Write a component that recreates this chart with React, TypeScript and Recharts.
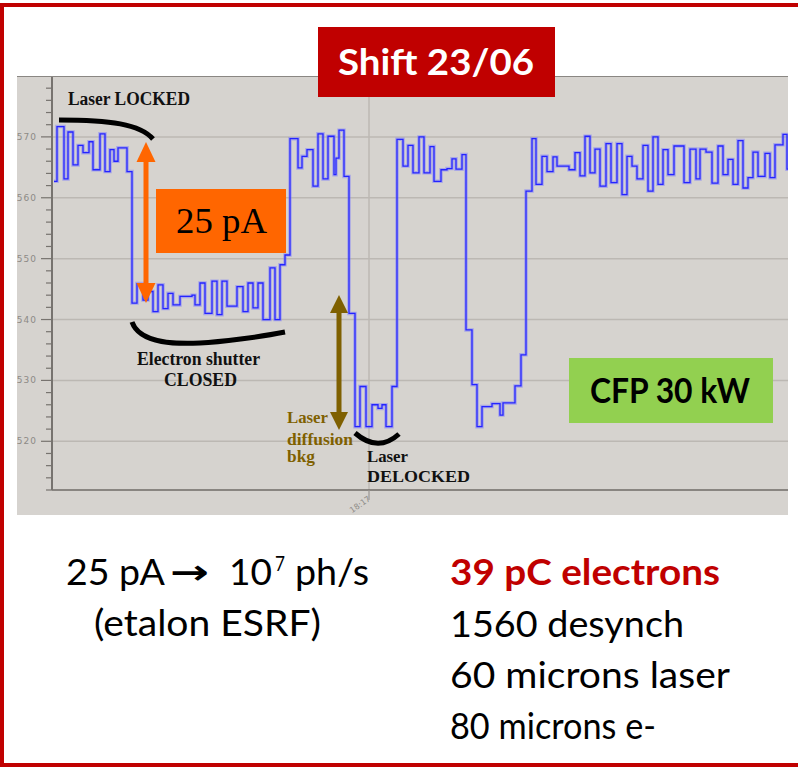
import React from "react";
import { LineChart, Line, XAxis, YAxis, CartesianGrid } from "recharts";

// step changes of the photodiode current (t = time index, pA)
const times = [
  2, 5, 12, 16, 21, 26, 31, 37, 41, 48, 53, 58, 62, 66, 75, 80, 85, 91, 96, 101,
  106, 111, 116, 121, 128, 140, 143, 148, 153, 160, 165, 170, 175, 185, 191, 196,
  201, 206, 211, 218, 223, 228, 233, 238, 246, 250, 255, 261, 266, 271, 276, 282,
  284, 287, 292, 297, 303, 308, 314, 320, 326, 330, 334, 340, 345, 351, 356, 361,
  367, 372, 378, 382, 389, 395, 400, 404, 410, 414, 420, 425, 430, 440, 448, 451,
  463, 469, 474, 480, 484, 490, 495, 501, 505, 517, 523, 528, 533, 538, 543, 548,
  554, 559, 565, 570, 575, 580, 585, 591, 596, 601, 606, 611, 616, 622, 632, 638,
  644, 648, 654, 660, 666, 671, 676, 681, 686, 691, 696, 701, 706, 713, 718, 723,
  731, 735, 736,
];
const current = [
  562.7, 571.7, 563.1, 570.8, 565.4, 568.6, 567.4, 569.2, 564.6, 570.5, 564.3, 567.9, 566.0, 568.2, 564.3, 542.7, 545.9, 543.2, 544.6, 541.3,
  545.7, 541.8, 544.3, 542.4, 543.8, 544.0, 542.4, 546.0, 541.0, 546.3, 540.8, 546.3, 542.2, 545.4, 541.3, 546.0,
  541.9, 546.0, 540.0, 548.5, 540.0, 549.0, 550.6, 569.7, 564.9, 566.8, 567.9, 561.9, 570.5, 563.1, 570.1, 563.8,
  566.5, 571.1, 563.5, 541.0, 522.4, 529.0, 522.4, 526.0, 525.4, 526.0, 522.4, 529.0, 569.6, 565.2, 568.6, 564.1,
  570.0, 564.1, 568.4, 562.7, 564.6, 564.8, 566.4, 564.7, 567.1, 538.3, 529.3, 522.4, 525.7, 526.2, 524.3, 526.3,
  529.1, 534.2, 561.1, 569.7, 562.2, 566.8, 564.3, 566.7, 565.2, 564.6, 567.4, 563.6, 570.1, 564.1, 568.0, 561.9,
  568.9, 562.5, 568.9, 560.5, 566.8, 565.2, 563.1, 568.6, 561.1, 570.0, 562.2, 567.9, 563.8, 568.5, 562.5, 568.0,
  563.1, 568.0, 567.5, 562.4, 568.5, 563.8, 566.3, 562.2, 569.4, 561.6, 563.3, 567.5, 563.5, 567.3, 563.3, 568.7,
  570.4, 564.7, 564.7,
];

const yMajor = [520, 530, 540, 550, 560, 570];
const yDomain = [512, 580];
const timeTicks = [317];
const timeLabels = ["18:17"];

const rows = times.map((t, i) => ({ t, v: current[i] }));
const yTicks: number[] = [];
for (let v = yDomain[0]; v <= yDomain[1]; v += 2) yTicks.push(v);

function YTick(props: any) {
  const { x, y, payload } = props;
  const major = payload.value % 10 === 0;
  const labelled = yMajor.includes(payload.value);
  return (
    <g>
      <line x1={x - (major ? 11 : 6)} x2={x} y1={y} y2={y} stroke="#77736f" strokeWidth={1.2} />
      {labelled && (
        <text x={x - 15} y={y + 3} textAnchor="end" fontSize={9} fill="#8d8a86" fontFamily="DejaVu Sans" letterSpacing={1}>
          {payload.value}
        </text>
      )}
    </g>
  );
}

function XTick(props: any) {
  const { x, y, index } = props;
  return (
    <g>
      <line x1={x} x2={x} y1={y} y2={y + 10} stroke="#9a9692" strokeWidth={1.2} />
      <text transform={`translate(${x + 2},${y + 10}) rotate(-35)`} textAnchor="end" fontSize={8} fill="#8d8a86" fontFamily="DejaVu Sans">
        {timeLabels[index]}
      </text>
    </g>
  );
}

const serif = "'Liberation Serif', 'DejaVu Serif', serif";
const sans = "Lato, 'Open Sans', sans-serif";

export default function App() {
  return (
    <div style={{ position: "absolute", left: 0, top: 0, width: 798, height: 767, overflow: "hidden", background: "#fff" }}>
      <div
        style={{
          position: "absolute", left: 0, top: 3, width: 798, height: 764, boxSizing: "border-box",
          borderTop: "4px solid #c00000", borderLeft: "4px solid #c00000", borderBottom: "4px solid #c00000",
        }}
      />
      <div style={{ position: "absolute", left: 17, top: 76, width: 771, height: 439, background: "#d6d3cf" }}>
        <LineChart width={771} height={439} data={rows} margin={{ top: 0, right: 0, bottom: 0, left: 0 }}>
          <CartesianGrid horizontalValues={yMajor} verticalValues={timeTicks} stroke="#bcb8b3" strokeWidth={1.5} />
          <XAxis
            type="number" dataKey="t" domain={[0, 736]} ticks={timeTicks} tick={<XTick />}
            tickLine={false} tickSize={0} tickMargin={0} height={25} allowDataOverflow
            axisLine={{ stroke: "#6f6b67", strokeWidth: 1.5 }}
          />
          <YAxis
            type="number" domain={yDomain} ticks={yTicks} tick={<YTick />} interval={0}
            tickLine={false} tickSize={0} tickMargin={0} width={35} allowDataOverflow
            axisLine={{ stroke: "#77736f", strokeWidth: 2 }}
          />
          <Line type="stepAfter" dataKey="v" stroke="#7a7aff" strokeWidth={3.5} strokeOpacity={0.5} dot={false} isAnimationActive={false} />
          <Line type="stepAfter" dataKey="v" stroke="#2424ff" strokeWidth={1.3} dot={false} isAnimationActive={false} />
        </LineChart>
      </div>
      <svg width={798} height={767} style={{ position: "absolute", left: 0, top: 0 }}>
        <line x1={17} x2={788} y1={76.5} y2={76.5} stroke="#8a8783" strokeWidth={1} />

        <rect x={318} y={27} width={237} height={70} fill="#c00000" />
        <text x={338} y={75} fontFamily={sans} fontWeight={700} fontSize={37} fill="#fff" textLength={196} lengthAdjust="spacingAndGlyphs">Shift 23/06</text>

        <text x={68} y={105} fontFamily={serif} fontWeight={700} fontSize={18} fill="#111" textLength={122} lengthAdjust="spacingAndGlyphs">Laser LOCKED</text>
        <path d="M59,120 C110,120 140,124 153,139" fill="none" stroke="#000" strokeWidth={5} />

        <polygon points="146,142 136.5,162 155.5,162" fill="#ff6600" />
        <rect x={143.5} y={160} width={5} height={125} fill="#ff6600" />
        <polygon points="136.5,283 155.5,283 146,303" fill="#ff6600" />
        <rect x={156} y={189} width={130} height={64} fill="#ff6600" />
        <text x={176} y={233} fontFamily={serif} fontSize={36} fill="#000" textLength={91} lengthAdjust="spacingAndGlyphs">25 pA</text>

        <path d="M132,322 C140,345 180,344 200,343 S260,337 285,332" fill="none" stroke="#000" strokeWidth={5} />
        <text x={137} y={365} fontFamily={serif} fontWeight={700} fontSize={18} fill="#111" textLength={123} lengthAdjust="spacingAndGlyphs">Electron shutter</text>
        <text x={164} y={386} fontFamily={serif} fontWeight={700} fontSize={18} fill="#111" textLength={73} lengthAdjust="spacingAndGlyphs">CLOSED</text>

        <polygon points="339,295 330,313 348,313" fill="#7f6000" />
        <rect x={336.5} y={311} width={5} height={103} fill="#7f6000" />
        <polygon points="330,412 348,412 339,430" fill="#7f6000" />
        <text x={287} y={423} fontFamily={serif} fontWeight={700} fontSize={16} fill="#7f6000" textLength={41} lengthAdjust="spacingAndGlyphs">Laser</text>
        <text x={287} y={445} fontFamily={serif} fontWeight={700} fontSize={16} fill="#7f6000" textLength={66} lengthAdjust="spacingAndGlyphs">diffusion</text>
        <text x={287} y={462} fontFamily={serif} fontWeight={700} fontSize={16} fill="#7f6000" textLength={28} lengthAdjust="spacingAndGlyphs">bkg</text>

        <path d="M355,433 Q378,453 399,434" fill="none" stroke="#000" strokeWidth={5} />
        <text x={367} y={462} fontFamily={serif} fontWeight={700} fontSize={16} fill="#111" textLength={41} lengthAdjust="spacingAndGlyphs">Laser</text>
        <text x={367} y={482} fontFamily={serif} fontWeight={700} fontSize={17} fill="#111" textLength={103} lengthAdjust="spacingAndGlyphs">DELOCKED</text>

        <rect x={569} y={358} width={204} height={65} fill="#92d050" />
        <text x={590} y={403} fontFamily={sans} fontWeight={700} fontSize={34} fill="#000" textLength={160} lengthAdjust="spacingAndGlyphs">CFP 30 kW</text>

        <text x={66} y={585} fontFamily={sans} fontSize={37} fill="#000" textLength={99} lengthAdjust="spacingAndGlyphs">25 pA</text>
        <text x={170} y={584} fontFamily="'DejaVu Sans', sans-serif" fontWeight={700} fontSize={34} fill="#000" textLength={39} lengthAdjust="spacingAndGlyphs">→</text>
        <text x={229} y={585} fontFamily={sans} fontSize={37} fill="#000" textLength={43} lengthAdjust="spacingAndGlyphs">10</text>
        <text x={275} y={571} fontFamily={sans} fontSize={21} fill="#000" textLength={10} lengthAdjust="spacingAndGlyphs">7</text>
        <text x={295} y={585} fontFamily={sans} fontSize={37} fill="#000" textLength={74} lengthAdjust="spacingAndGlyphs">ph/s</text>
        <text x={94} y={636} fontFamily={sans} fontSize={37} fill="#000" textLength={227} lengthAdjust="spacingAndGlyphs">(etalon ESRF)</text>

        <text x={450} y={585} fontFamily={sans} fontWeight={700} fontSize={37} fill="#c00000" textLength={270} lengthAdjust="spacingAndGlyphs">39 pC electrons</text>
        <text x={450} y={637} fontFamily={sans} fontSize={37} fill="#000" textLength={234} lengthAdjust="spacingAndGlyphs">1560 desynch</text>
        <text x={450} y={688} fontFamily={sans} fontSize={37} fill="#000" textLength={280} lengthAdjust="spacingAndGlyphs">60 microns laser</text>
        <text x={450} y={739} fontFamily={sans} fontSize={37} fill="#000" textLength={206} lengthAdjust="spacingAndGlyphs">80 microns e-</text>
      </svg>
    </div>
  );
}
